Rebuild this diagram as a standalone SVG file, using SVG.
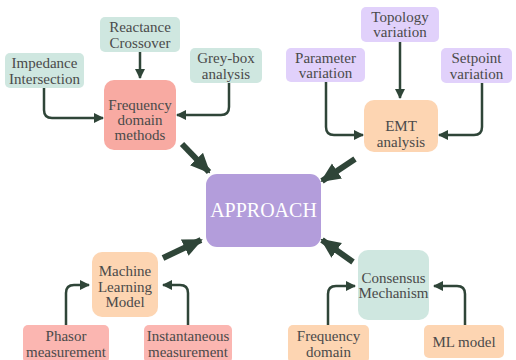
<svg xmlns="http://www.w3.org/2000/svg" width="516" height="360" viewBox="0 0 516 360">
<defs>
<marker id="ah" markerUnits="userSpaceOnUse" markerWidth="10" markerHeight="10" viewBox="0 0 10 10" refX="9" refY="5" orient="auto">
<path d="M0,0 L10,5 L0,10 Z" fill="#2f4538"/>
</marker>
<marker id="big" markerUnits="userSpaceOnUse" markerWidth="20" markerHeight="20" viewBox="0 0 20 20" refX="18" refY="10" orient="auto">
<path d="M0,1 L20,10 L0,19 Z" fill="#2f4538"/>
</marker>
</defs>
<style>
text{font-family:"Liberation Serif","Times New Roman",serif;font-size:15px;fill:#4a4a4a;text-anchor:middle}
.teal{fill:#cfe7e0}
.pink{fill:#f8aaa2}
.pink2{fill:#fbb6b1}
.peach{fill:#fdd5b2}
.lav{fill:#e1d1fb}
.thin{fill:none;stroke:#2f4538;stroke-width:2.5;marker-end:url(#ah)}
.thick{fill:none;stroke:#2f4538;stroke-width:6;marker-end:url(#big)}
</style>
<rect width="516" height="360" fill="#ffffff"/>
<g id="connectors">
<path class="thin" d="M44,88 V110 Q44,118 52,118 H103"/>
<path class="thin" d="M140,52 V78"/>
<path class="thin" d="M229,83 V107 Q229,115 221,115 H177"/>
<path class="thin" d="M400,42 V98"/>
<path class="thin" d="M326,82 V127 Q326,135 334,135 H363"/>
<path class="thin" d="M482,83 V127 Q482,135 474,135 H439"/>
<path class="thin" d="M66,325 V293 Q66,285 74,285 H89"/>
<path class="thin" d="M188,325 V293 Q188,285 180,285 H163"/>
<path class="thin" d="M328,325 V294 Q328,286 336,286 H355"/>
<path class="thin" d="M465,325 V294 Q465,286 457,286 H434"/>
<path class="thick" d="M182,144 L209,172"/>
<path class="thick" d="M355,159 L322,181"/>
<path class="thick" d="M163,258 L201,240"/>
<path class="thick" d="M353,262 L322,240"/>
</g>
<g id="approach">
<rect x="206" y="174" width="115" height="73" rx="11" fill="#b39ddb"/>
<text x="263.5" y="217" style="font-size:20px;fill:#ffffff">APPROACH</text>
</g>
<g id="freq-methods">
<rect class="pink" x="104" y="80" width="72" height="70" rx="10"/>
<text x="140" y="110">Frequency</text>
<text x="140" y="125">domain</text>
<text x="140" y="140">methods</text>
</g>
<g id="impedance">
<rect class="teal" x="5" y="53" width="79" height="35" rx="5"/>
<text x="44.5" y="68">Impedance</text>
<text x="44.5" y="84">Intersection</text>
</g>
<g id="reactance">
<rect class="teal" x="100" y="17" width="80" height="35" rx="5"/>
<text x="140" y="32">Reactance</text>
<text x="140" y="48">Crossover</text>
</g>
<g id="greybox">
<rect class="teal" x="190" y="48" width="72" height="35" rx="5"/>
<text x="226" y="63">Grey-box</text>
<text x="226" y="79">analysis</text>
</g>
<g id="emt">
<rect class="peach" x="364" y="100" width="74" height="52" rx="10"/>
<text x="401" y="131">EMT</text>
<text x="401" y="147">analysis</text>
</g>
<g id="topology">
<rect class="lav" x="361" y="7" width="78" height="35" rx="5"/>
<text x="400" y="22">Topology</text>
<text x="400" y="37">variation</text>
</g>
<g id="parameter">
<rect class="lav" x="286" y="48" width="79" height="34" rx="5"/>
<text x="325.5" y="63">Parameter</text>
<text x="325.5" y="78">variation</text>
</g>
<g id="setpoint">
<rect class="lav" x="441" y="48" width="71" height="35" rx="5"/>
<text x="476.5" y="63">Setpoint</text>
<text x="476.5" y="79">variation</text>
</g>
<g id="ml-model">
<rect class="peach" x="92" y="252" width="66" height="65" rx="10"/>
<text x="125" y="276">Machine</text>
<text x="125" y="292">Learning</text>
<text x="125" y="307">Model</text>
</g>
<g id="phasor">
<rect class="pink2" x="23" y="325" width="86" height="38" rx="5"/>
<text x="66" y="341">Phasor</text>
<text x="66" y="357">measurement</text>
</g>
<g id="instantaneous">
<rect class="pink2" x="144" y="325" width="88" height="38" rx="5"/>
<text x="188" y="341">Instantaneous</text>
<text x="188" y="357">measurement</text>
</g>
<g id="consensus">
<rect class="teal" x="358" y="250" width="71" height="70" rx="10"/>
<text x="393.5" y="283">Consensus</text>
<text x="393.5" y="298">Mechanism</text>
</g>
<g id="freq-domain">
<rect class="peach" x="288" y="325" width="81" height="38" rx="5"/>
<text x="328.5" y="341">Frequency</text>
<text x="328.5" y="357">domain</text>
</g>
<g id="mlmodel">
<rect class="peach" x="424" y="325" width="80" height="33" rx="5"/>
<text x="464" y="347">ML model</text>
</g>
</svg>
